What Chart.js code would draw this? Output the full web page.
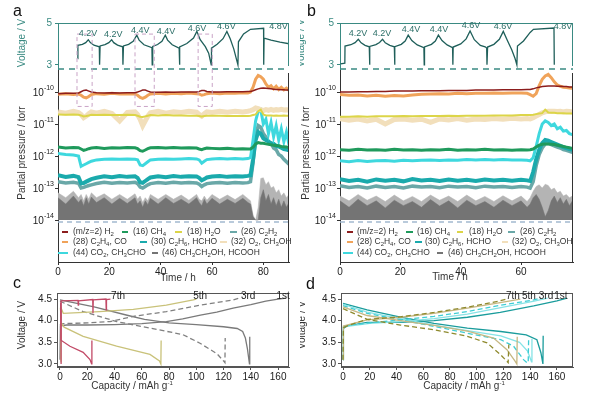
<!DOCTYPE html>
<html>
<head>
<meta charset="utf-8">
<script src="https://cdn.jsdelivr.net/npm/chart.js@4.4.0/dist/chart.umd.min.js"></script>
<style>
  body { margin: 0; background: #fff; }
  #page { position: relative; width: 600px; height: 394px; overflow: hidden; font-family: 'Liberation Sans', Arial, sans-serif; color: #333; }
  canvas { position: absolute; }
  .lbl { position: absolute; white-space: nowrap; font-size: 10px; line-height: 10px; }
  .rot { transform: translate(-50%, -50%) rotate(-90deg); }
  .ctr { transform: translate(-50%, -50%); }
  .panel { position: absolute; font-size: 16px; line-height: 16px; color: #111; }
  .clip { position: absolute; overflow: hidden; }
  sub { font-size: 6px; vertical-align: baseline; position: relative; top: 2px; }
  sup { font-size: 6px; vertical-align: baseline; position: relative; top: -4px; }
  .leg { position: absolute; font-size: 8.5px; line-height: 9px; white-space: nowrap; color: #333; transform: translateY(-50%); }
  .mk { position: absolute; height: 2px; transform: translateY(-50%); }
</style>
</head>
<body>
<div id="page">
  <canvas id="chartA" width="300" height="290" style="left:0;top:0"></canvas>
  <canvas id="chartB" width="300" height="290" style="left:300px;top:0"></canvas>
  <canvas id="chartC" width="300" height="109" style="left:0;top:285px"></canvas>
  <canvas id="chartD" width="300" height="109" style="left:300px;top:285px"></canvas>

  <div class="panel" style="left:13px;top:3px">a</div>
  <div class="panel" style="left:307px;top:3px">b</div>
  <div class="panel" style="left:13px;top:275px">c</div>
  <div class="panel" style="left:306px;top:276px">d</div>

  <div class="lbl rot" style="left:22px;top:43px;color:#3a8a82">Voltage / V</div>
  <div class="lbl rot" style="left:22px;top:153px">Partial pressure / torr</div>
  <div class="lbl ctr" style="left:178px;top:278px">Time / h</div>
  <div class="lbl ctr" style="left:450px;top:277px">Time / h</div>
  <div class="lbl rot" style="left:22px;top:325px">Voltage / V</div>
  <div class="lbl ctr" style="left:132px;top:386px">Capacity / mAh g<sup>-1</sup></div>
  <div class="lbl ctr" style="left:464px;top:386px">Capacity / mAh g<sup>-1</sup></div>
  <div class="clip" style="left:300px;top:0;width:40px;height:394px">
    <div class="lbl rot" style="left:1px;top:43px;color:#3a8a82">Voltage / V</div>
    <div class="lbl rot" style="left:6px;top:153px">Partial pressure / torr</div>
    <div class="lbl rot" style="left:2px;top:325px">Voltage / V</div>
  </div>
  <div id="legends"></div>
</div>

<script>
// time axes (h) for the mass-spec traces
const tA = [0, 3, 6, 8, 9, 10, 11, 12, 13, 15, 18, 21, 24, 27, 30, 31, 32, 33, 34, 35, 36,
  39, 42, 45, 48, 51, 54, 55, 56, 57, 58, 60, 63, 66, 69, 72, 74,
  75, 76, 77, 78, 79, 80, 81, 82, 83, 84, 85, 86, 87, 88, 89, 90];
const tB = [0, 3, 6, 9, 12, 15, 18, 21, 24, 27, 30, 33, 36, 39, 42, 45, 48, 51, 54, 57, 60,
  62, 63, 64, 65, 66, 67, 68, 69, 70, 71, 72, 73, 74, 75, 76, 77];
const timeTicksA = [0, 20, 40, 60, 80];
const timeTicksB = [0, 20, 40, 60];

// partial pressures, stored as log10(torr)
const a_h2 = [-10.05, -10.04, -10.04, -10.03, -9.99, -9.95, -9.94, -9.97, -10.0,
  -10.02, -10.03, -10.02, -10.03, -10.02, -10.02, -10.0, -9.97, -9.94, -9.94, -9.97, -10.0,
  -10.01, -10.0, -10.01, -10.0, -10.0, -10.0, -9.98, -9.95, -9.95, -9.98,
  -10.0, -10.0, -9.99, -9.99, -9.99, -9.98, -9.98, -9.96, -9.93, -9.9, -9.88, -9.87, -9.88, -9.89,
  -9.9, -9.91, -9.92, -9.92, -9.93, -9.93, -9.94, -9.94];
const a_m28 = [-10.07, -10.05, -10.08, -10.06, -10.1, -10.16, -10.18, -10.14, -10.08,
  -10.05, -10.07, -10.04, -10.06, -10.05, -10.06, -10.1, -10.17, -10.2, -10.16, -10.1, -10.06,
  -10.04, -10.06, -10.04, -10.05, -10.03, -10.05, -10.06, -10.1, -10.08, -10.05,
  -10.03, -10.05, -10.03, -10.04, -10.02, -10.03, -10.0, -9.85, -9.6, -9.48, -9.52, -9.6, -9.75, -9.85,
  -9.8, -9.9, -9.82, -9.92, -9.85, -9.93, -9.88, -9.95];
const a_m18 = [-10.7, -10.71, -10.7, -10.71, -10.73, -10.76, -10.75, -10.73, -10.71,
  -10.72, -10.71, -10.72, -10.72, -10.71, -10.72, -10.74, -10.77, -10.78, -10.76, -10.74, -10.72,
  -10.73, -10.72, -10.73, -10.73, -10.74, -10.74, -10.75, -10.76, -10.75, -10.74,
  -10.74, -10.74, -10.75, -10.75, -10.75, -10.75, -10.74, -10.72, -10.7, -10.6, -10.55, -10.7, -10.73, -10.73,
  -10.73, -10.74, -10.73, -10.74, -10.74, -10.73, -10.74, -10.74];
const a_m32 = [-10.62, -10.66, -10.6, -10.64, -10.7, -10.8, -10.75, -10.68, -10.62,
  -10.66, -10.6, -10.67, -10.9, -10.64, -10.62, -10.7, -10.85, -11.05, -10.9, -10.75, -10.65,
  -10.6, -10.66, -10.62, -10.64, -10.6, -10.63, -10.7, -10.75, -10.68, -10.62,
  -10.64, -10.6, -10.63, -10.6, -10.62, -10.6, -10.58, -10.55, -10.5, -10.52, -10.55, -10.58, -10.55, -10.57,
  -10.54, -10.57, -10.55, -10.56, -10.54, -10.56, -10.55, -10.56];
const a_m16 = [-11.72, -11.75, -11.73, -11.74, -11.78, -11.82, -11.8, -11.77, -11.75,
  -11.73, -11.76, -11.74, -11.75, -11.73, -11.74, -11.77, -11.83, -11.85, -11.81, -11.77, -11.74,
  -11.73, -11.75, -11.73, -11.75, -11.74, -11.75, -11.78, -11.8, -11.77, -11.75,
  -11.76, -11.77, -11.76, -11.78, -11.77, -11.78, -11.78, -11.72, -11.62, -11.58, -11.6, -11.6, -11.62, -11.63,
  -11.65, -11.66, -11.67, -11.68, -11.7, -11.71, -11.72, -11.73];
const a_m44 = [-11.92, -11.95, -11.97, -12.0, -12.32, -12.28, -12.24, -12.2, -12.16,
  -12.12, -12.1, -12.09, -12.1, -12.09, -12.1, -12.12, -12.28, -12.3, -12.24, -12.18, -12.12,
  -12.1, -12.09, -12.1, -12.09, -12.08, -12.09, -12.12, -12.22, -12.16, -12.11,
  -12.09, -12.08, -12.09, -12.08, -12.09, -12.08, -12.05, -11.5, -10.9, -10.6, -10.55, -11.0, -10.85, -11.3,
  -10.95, -11.4, -11.05, -11.5, -11.15, -11.55, -11.25, -11.65];
const a_m30 = [-12.6, -12.65, -12.62, -12.66, -12.85, -12.84, -12.8, -12.76, -12.72,
  -12.68, -12.63, -12.66, -12.62, -12.65, -12.63, -12.68, -12.82, -12.84, -12.78, -12.72, -12.67,
  -12.63, -12.66, -12.62, -12.65, -12.63, -12.64, -12.68, -12.76, -12.72, -12.67,
  -12.64, -12.62, -12.65, -12.63, -12.64, -12.62, -12.6, -12.1, -11.5, -11.25, -11.3, -11.45, -11.5, -11.55,
  -11.6, -11.62, -11.68, -11.7, -11.74, -11.78, -11.8, -11.82];
const a_m26 = [-12.8, -12.84, -12.82, -12.85, -13.0, -12.98, -12.95, -12.92, -12.9,
  -12.86, -12.82, -12.85, -12.83, -12.84, -12.82, -12.86, -12.97, -13.0, -12.95, -12.9, -12.86,
  -12.83, -12.85, -12.82, -12.84, -12.83, -12.84, -12.88, -12.95, -12.9, -12.86,
  -12.84, -12.83, -12.85, -12.83, -12.84, -12.83, -12.8, -12.2, -11.4, -11.05, -11.1, -11.3, -11.4, -11.55,
  -11.6, -11.75, -11.8, -11.95, -12.0, -12.1, -12.18, -12.26];
const a_m46 = [-13.3, -13.5, -13.25, -13.45, -13.35, -13.55, -13.3, -13.5, -13.28,
  -13.45, -13.3, -13.5, -13.32, -13.48, -13.3, -13.5, -13.4, -13.6, -13.4, -13.52, -13.32,
  -13.5, -13.3, -13.48, -13.35, -13.5, -13.3, -13.45, -13.55, -13.35, -13.5,
  -13.32, -13.5, -13.35, -13.48, -13.32, -13.45, -13.5, -13.9, -14.0, -14.0, -13.3, -13.05, -13.4, -13.2,
  -13.5, -13.3, -13.55, -13.35, -13.6, -13.4, -13.6, -13.45];
const a_m46b = [-13.15, -13.3, -13.1, -13.3, -13.2, -13.4, -13.2, -13.35, -13.15,
  -13.3, -13.18, -13.35, -13.2, -13.35, -13.18, -13.35, -13.25, -13.45, -13.3, -13.4, -13.2,
  -13.35, -13.2, -13.35, -13.22, -13.38, -13.2, -13.35, -13.4, -13.25, -13.38,
  -13.2, -13.35, -13.22, -13.36, -13.2, -13.33, -13.4, -13.85, -14.0, -13.6, -12.7, -12.68, -12.9, -12.8,
  -13.0, -12.95, -13.15, -13.05, -13.25, -13.15, -13.3, -13.2];

const b_h2 = [-10.0, -10.0, -9.99, -9.99, -9.98, -9.98, -9.97, -9.97, -9.97, -9.96, -9.96,
  -9.96, -9.95, -9.95, -9.95, -9.94, -9.94, -9.94, -9.93, -9.93, -9.93,
  -9.92, -9.92, -9.9, -9.87, -9.85, -9.83, -9.82, -9.81,
  -9.81, -9.81, -9.82, -9.82, -9.83, -9.83, -9.84, -9.84];
const b_m28 = [-10.08, -10.1, -10.09, -10.12, -10.1, -10.13, -10.11, -10.12, -10.09, -10.07, -10.06,
  -10.05, -10.06, -10.04, -10.05, -10.04, -10.04, -10.03, -10.04, -10.03, -10.03,
  -10.04, -10.08, -10.13, -10.05, -9.8, -9.6, -9.5, -9.45,
  -9.55, -9.68, -9.78, -9.82, -9.85, -9.86, -9.87, -9.88];
const b_m18 = [-10.77, -10.77, -10.76, -10.77, -10.76, -10.76, -10.76, -10.75, -10.76, -10.75, -10.75,
  -10.75, -10.74, -10.75, -10.74, -10.74, -10.74, -10.73, -10.73, -10.73, -10.72,
  -10.72, -10.72, -10.71, -10.69, -10.67, -10.66, -10.55, -10.64,
  -10.65, -10.65, -10.66, -10.66, -10.66, -10.67, -10.67, -10.67];
const b_m32 = [-10.83, -10.88, -10.84, -10.9, -10.85, -11.0, -10.86, -10.84, -10.88, -10.85, -10.95,
  -10.84, -10.87, -10.83, -10.88, -10.84, -10.86, -10.83, -10.85, -10.82, -10.84,
  -10.83, -10.84, -10.8, -10.75, -10.7, -10.65, -10.62, -10.6,
  -10.6, -10.6, -10.61, -10.6, -10.62, -10.6, -10.61, -10.62];
const b_m16 = [-11.8, -11.82, -11.79, -11.81, -11.8, -11.82, -11.79, -11.81, -11.8, -11.82, -11.8,
  -11.81, -11.79, -11.82, -11.8, -11.81, -11.79, -11.81, -11.8, -11.82, -11.8,
  -11.81, -11.8, -11.78, -11.72, -11.66, -11.63, -11.62, -11.62,
  -11.63, -11.64, -11.66, -11.68, -11.7, -11.72, -11.74, -11.76];
const b_m44 = [-12.15, -12.18, -12.14, -12.17, -12.15, -12.14, -12.16, -12.13, -12.15, -12.13, -12.12,
  -12.14, -12.12, -12.13, -12.11, -12.12, -12.11, -12.12, -12.11, -12.12, -12.12,
  -12.13, -12.15, -12.05, -11.7, -11.3, -11.0, -10.9, -10.95,
  -11.05, -11.0, -11.15, -11.1, -11.22, -11.2, -11.3, -11.33];
const b_m30 = [-12.72, -12.78, -12.74, -12.8, -12.73, -12.77, -12.74, -12.79, -12.72, -12.76, -12.74,
  -12.78, -12.73, -12.77, -12.74, -12.78, -12.73, -12.76, -12.74, -12.77, -12.74,
  -12.76, -12.78, -12.5, -12.1, -11.8, -11.6, -11.5, -11.52,
  -11.56, -11.6, -11.64, -11.68, -11.72, -11.75, -11.78, -11.8];
const b_m26 = [-12.93, -12.98, -12.95, -13.0, -12.94, -12.98, -12.95, -13.0, -12.94, -12.97, -12.95,
  -12.99, -12.94, -12.97, -12.95, -12.99, -12.94, -12.97, -12.95, -12.98, -12.95,
  -12.97, -13.0, -12.8, -12.3, -11.95, -11.75, -11.62, -11.6,
  -11.64, -11.68, -11.72, -11.75, -11.8, -11.82, -11.85, -11.88];
const b_m46 = [-13.4, -13.6, -13.35, -13.55, -13.4, -13.62, -13.38, -13.55, -13.42, -13.6, -13.36,
  -13.56, -13.4, -13.62, -13.38, -13.55, -13.42, -13.6, -13.38, -13.55, -13.4,
  -13.6, -13.5, -13.3, -13.2, -13.35, -13.6, -13.9, -13.7,
  -13.4, -13.25, -13.45, -13.3, -13.5, -13.35, -13.55, -13.4];
const b_m46b = [-13.25, -13.4, -13.2, -13.38, -13.25, -13.42, -13.22, -13.4, -13.26, -13.42, -13.22,
  -13.38, -13.25, -13.42, -13.22, -13.4, -13.26, -13.42, -13.24, -13.4, -13.25,
  -13.42, -13.3, -13.1, -12.95, -12.9, -13.0, -12.88, -12.92,
  -13.05, -13.0, -13.15, -13.1, -13.25, -13.2, -13.3, -13.25];

// cell voltage vs time, [h, V]
const voltA = [[7.7, 3.3], [7.75, 3.93], [9.5, 3.98], [10.8, 4.06], [11.8, 4.2], [12.6, 4.06], [14, 3.94], [16.1, 3.86], [16.2, 3.0], [16.4, 3.9],
  [18.3, 3.97], [19.8, 4.06], [20.9, 4.2], [21.7, 4.06], [23.2, 3.94], [25.2, 3.86], [25.3, 3.0], [25.5, 3.9],
  [27.5, 3.98], [29.3, 4.12], [30.7, 4.42], [31.6, 4.18], [33.5, 3.96], [36.6, 3.82], [36.7, 3.0], [36.9, 3.88],
  [38.8, 3.97], [40.5, 4.12], [41.8, 4.42], [42.7, 4.18], [44.5, 3.96], [47.2, 3.8], [47.3, 3.0], [47.5, 3.86],
  [50.2, 4.02], [52.8, 4.28], [54.1, 4.6], [55.4, 4.2], [57.4, 3.87], [58.7, 3.56], [59.7, 3.0],
  [59.8, 3.8], [62, 3.98], [64.3, 4.25], [65.8, 4.6], [67.1, 4.25], [68.5, 3.75], [70.1, 3.0],
  [70.3, 4.1], [72.3, 4.48], [75, 4.7], [80.1, 4.75], [80.15, 3.0], [80.3, 4.28], [83, 4.18], [86.5, 4.08], [90.3, 4.0]];
const voltB = [[0.2, 3.05], [1.6, 3.08], [1.66, 3.9], [3.6, 3.96], [5, 4.06], [6.07, 4.22], [7, 4.05], [8.3, 3.93], [9.7, 3.86], [9.8, 3.0], [9.9, 3.88],
  [11.9, 3.97], [13.1, 4.07], [14.1, 4.22], [15, 4.05], [16.5, 3.93], [18, 3.86], [18.1, 3.0], [18.2, 3.87],
  [20.3, 3.98], [21.6, 4.14], [22.6, 4.42], [23.8, 4.16], [25.6, 3.95], [27.8, 3.82], [27.9, 3.0], [28, 3.86],
  [30.3, 3.98], [31.6, 4.14], [32.6, 4.42], [33.8, 4.16], [35.5, 3.95], [37.3, 3.82], [37.4, 3.0], [37.5, 3.85],
  [40, 4.0], [41.8, 4.24], [43.1, 4.62], [44.5, 4.2], [46.5, 3.93], [48.1, 3.86], [48.6, 3.8], [48.7, 3.0], [48.9, 3.85],
  [51, 3.98], [52.8, 4.22], [54.1, 4.6], [55.5, 4.15], [56.9, 3.72], [58, 3.3], [58.6, 3.0], [58.8, 3.9],
  [60.8, 4.14], [63, 4.55], [64.1, 4.7], [70.9, 4.76], [71.0, 3.0]];
const voltTicks = [3, 4, 5];
const pTickExp = [-14, -13, -12, -11, -10];

// cut-off voltage notes on the top strip
const noteText = ['4.2V', '4.2V', '4.4V', '4.4V', '4.6V', '4.6V', '4.8V'];
const noteTA = [11.7, 21.5, 32, 42.1, 54.2, 65.6, 85.9];
const noteVA = [4.52, 4.47, 4.62, 4.57, 4.76, 4.81, 4.81];
const noteTB = [6.0, 13.9, 23.5, 32.8, 43.4, 54.0, 73.9];
const noteVB = [4.52, 4.52, 4.71, 4.71, 4.86, 4.81, 4.81];
// highlighted first cycles in panel a, [start h, end h]
const boxSpans = [[7.4, 13.3], [30, 37.5], [54.6, 60.1]];

// galvanostatic curves, [mAh/g, V]
const c1Ch = [[0, 3.1], [0.3, 3.88], [5, 3.9], [20, 3.9], [40, 3.91], [60, 3.93], [78, 3.98], [90, 4.04], [103, 4.13], [115, 4.2], [127, 4.29], [140, 4.37], [151, 4.45], [160, 4.5], [166, 4.52]];
const c1Dis = [[0, 4.48], [25, 4.32], [50, 4.12], [62, 4.03], [80, 3.95], [100, 3.91], [120, 3.86], [130, 3.82], [134, 3.75], [136, 3.6], [137.5, 3.35], [139, 3.0], [139.2, 3.63]];
const c3Ch = [[0, 3.9], [1, 3.93], [20, 3.95], [36.7, 3.98], [53.8, 4.1], [78, 4.21], [102.7, 4.36], [127, 4.48], [131, 4.52]];
const c3Dis = [[0, 4.45], [17, 4.21], [41.5, 3.98], [66, 3.83], [90, 3.68], [102.7, 3.48], [115, 3.24], [120, 3.07], [121, 3.03], [121.2, 3.6]];
const c5Ch = [[0.5, 3.05], [0.7, 4.3], [2.4, 4.17], [29, 4.21], [53.8, 4.26], [78, 4.36], [97.8, 4.48], [100, 4.5]];
const c5Dis = [[0.3, 4.3], [1, 3.95], [3, 3.85], [17, 3.64], [41.5, 3.41], [66, 3.22], [73, 3.07], [74, 3.0], [74.2, 3.54]];
const c7Ch = [[0.8, 3.0], [0.8, 4.46], [13.2, 4.47], [13.4, 4.36], [13.6, 4.46], [24, 4.49], [24.2, 4.17], [24.4, 4.48], [33.7, 4.5], [33.9, 4.25], [34.1, 4.49], [37, 4.5]];
const c7Dis = [[0.5, 4.42], [0.7, 3.55], [7.3, 3.41], [17, 3.27], [22, 3.1], [23.2, 3.0], [23.4, 3.54]];

const d1Ch = [[0, 3.1], [0.3, 3.82], [3, 3.88], [18, 3.96], [43, 3.96], [68, 4.0], [93, 4.08], [117.6, 4.19], [142.6, 4.34], [160, 4.46], [167.5, 4.52]];
const d1Dis = [[0, 4.4], [18, 4.25], [43, 4.08], [68, 3.94], [93, 3.83], [118, 3.75], [137, 3.67], [145, 3.56], [148, 3.26], [149.5, 3.0], [149.7, 3.65]];
const d2Ch = [[0, 3.1], [0.3, 3.86], [20, 3.94], [43, 3.98], [68, 4.05], [93, 4.15], [118, 4.3], [143, 4.45], [153, 4.52]];
const d2Dis = [[0, 4.38], [18, 4.2], [43, 4.05], [68, 3.9], [93, 3.77], [118, 3.65], [132, 3.5], [138, 3.3], [141, 3.05], [141.3, 3.58]];
const d3Ch = [[0, 3.1], [0.3, 3.85], [5, 3.9], [20, 3.95], [43, 4.02], [68, 4.1], [93, 4.21], [118, 4.36], [142.6, 4.48], [147, 4.52]];
const d3Dis = [[0, 4.35], [18, 4.17], [43, 4.02], [68, 3.87], [93, 3.71], [118, 3.56], [127.6, 3.41], [135, 3.1], [137.5, 3.03], [138.5, 3.03], [138.8, 3.55]];
const d5Ch = [[0, 3.1], [0.3, 3.88], [18, 4.02], [43, 4.08], [68, 4.17], [93, 4.29], [117.6, 4.42], [132.6, 4.5]];
const d5Dis = [[0, 4.32], [18, 4.12], [43, 4.0], [68, 3.89], [93, 3.76], [112.6, 3.6], [122.6, 3.33], [128.8, 3.06], [130, 3.0], [130.3, 3.63]];
const d7Ch = [[0, 3.1], [0.3, 3.84], [5, 3.9], [18, 4.03], [43, 4.09], [68, 4.19], [93, 4.31], [117.6, 4.46], [122.6, 4.5]];
const d7Dis = [[0, 4.28], [18, 4.03], [43, 3.9], [68, 3.79], [93, 3.64], [107.7, 3.49], [117.6, 3.22], [122.6, 3.06], [123.5, 3.03], [124, 3.45]];

const capTicks = [0, 20, 40, 60, 80, 100, 120, 140, 160];
const capVTicks = [3.0, 3.5, 4.0, 4.5];
const cycleText = ['7th', '5th', '3rd', '1st'];
const cycleCapC = [42.6, 102.8, 138, 163.7];
const cycleCapD = [127, 139, 151.8, 163];

// series order: H2, 28, 18, 32, 16, 44, 30, 26, 46, 46 (light)
const gasNames = ['(m/z=2) H<sub>2</sub>', '(28) C<sub>2</sub>H<sub>4</sub>, CO', '(18) H<sub>2</sub>O',
  '(32) O<sub>2</sub>, CH<sub>3</sub>OH', '(16) CH<sub>4</sub>', '(44) CO<sub>2</sub>, CH<sub>3</sub>CHO',
  '(30) C<sub>2</sub>H<sub>6</sub>, HCHO', '(26) C<sub>2</sub>H<sub>2</sub>', '(46) CH<sub>3</sub>CH<sub>2</sub>OH, HCOOH'];
const gasColors = ['#8c1d1d', '#f0a35a', '#dcd548', '#f2dfbb', '#1f9a5c', '#3ed8de', '#1aaaac', '#6aa8a8', '#747474', '#b4b4b4'];
const gasWidths = [1.5, 3, 2, 5, 3, 3, 4, 3.5, 0.5, 0.5];
const legOrder = [0, 4, 2, 7, 1, 6, 3, 5, 8];
// legend layout: [marker start, marker end, text x, row y]
const legPosA = [[62, 68, 73, 232], [122, 128, 133, 232], [175, 182, 187, 232], [230, 237, 241, 232],
  [62, 68, 73, 242], [140, 147, 151, 242], [220, 227, 231, 242], [58, 68, 73, 253], [152, 158, 162, 253]];
const legPosB = [[347, 353, 357, 232], [406, 413, 417, 232], [457, 463, 469, 232], [508, 515, 520, 232],
  [347, 353, 357, 242], [415, 422, 425, 242], [502, 508, 512, 242], [343, 353, 357, 253], [437, 443, 448, 253]];

const teal = '#3a8a82';
const font = "'Liberation Sans', Arial, sans-serif";

Chart.defaults.font.family = font;
Chart.defaults.font.size = 10;
Chart.defaults.color = '#222';
Chart.defaults.animation = false;
Chart.defaults.events = [];
Chart.defaults.plugins.legend.display = false;
Chart.defaults.plugins.tooltip.enabled = false;
Chart.defaults.elements.point.radius = 0;
Chart.defaults.elements.line.tension = 0;

const toXY = (pairs) => pairs.map((p) => ({ x: p[0], y: p[1] }));
const line = (ctx, x0, y0, x1, y1) => {
  ctx.beginPath();
  ctx.moveTo(x0, y0);
  ctx.lineTo(x1, y1);
  ctx.stroke();
};

// frame, separators, boxes and superscript tick labels for the gas panels
const gasFrame = (noteT, noteV, boxes) => ({
  id: 'gasFrame',
  afterDraw(chart) {
    const { ctx, chartArea: ca, scales } = chart;
    const { x, yV, yP } = scales;
    ctx.save();
    ctx.lineWidth = 1;
    ctx.strokeStyle = teal;
    line(ctx, ca.left, yV.top + 0.5, ca.right, yV.top + 0.5);
    line(ctx, ca.right - 0.5, yV.top, ca.right - 0.5, yV.bottom - 3);
    ctx.strokeStyle = '#333';
    line(ctx, ca.right - 0.5, yP.top + 4, ca.right - 0.5, ca.bottom);

    ctx.lineWidth = 1.5;
    ctx.setLineDash([6, 5]);
    ctx.strokeStyle = teal;
    line(ctx, ca.left, yV.bottom, ca.right, yV.bottom);
    ctx.setLineDash([5, 4]);
    ctx.strokeStyle = '#a3b9cf';
    const y14 = yP.getPixelForValue(1e-14) + 2;
    line(ctx, ca.left, y14, ca.right, y14);

    ctx.lineWidth = 1;
    ctx.setLineDash([4, 3]);
    ctx.strokeStyle = '#c9a3c6';
    boxes.forEach((b) => {
      const x0 = x.getPixelForValue(b[0]);
      const x1 = x.getPixelForValue(b[1]);
      const y0 = yV.getPixelForValue(4.47);
      const y1 = yP.getPixelForValue(Math.pow(10, -10.45));
      ctx.strokeRect(x0, y0, x1 - x0, y1 - y0);
    });
    ctx.setLineDash([]);

    ctx.fillStyle = '#222';
    ctx.textAlign = 'right';
    ctx.textBaseline = 'middle';
    yP.ticks.forEach((tk) => {
      const y = yP.getPixelForValue(tk.value);
      const e = String(Math.round(Math.log10(tk.value)));
      const xr = yP.right - 4;
      ctx.font = '7px ' + font;
      const ew = ctx.measureText(e).width;
      ctx.fillText(e, xr, y - 4);
      ctx.font = '10px ' + font;
      ctx.fillText('10', xr - ew, y + 1);
    });

    ctx.fillStyle = '#2c6f68';
    ctx.font = '9px ' + font;
    ctx.textAlign = 'center';
    noteText.forEach((s, i) => {
      ctx.fillText(s, x.getPixelForValue(noteT[i]), yV.getPixelForValue(noteV[i]));
    });
    ctx.restore();
  },
});

const makeGas = (id, times, series, volt, xMax, xTicks, yWidth, padRight, noteT, noteV, boxes) => {
  const sets = series.map((s, i) => ({
    data: times.map((t, j) => ({ x: t, y: Math.pow(10, s[j]) })),
    yAxisID: 'yP',
    borderColor: gasColors[i],
    backgroundColor: gasColors[i],
    borderWidth: gasWidths[i],
    fill: i >= 8 ? { value: 1e-14 } : false,
  }));
  sets.unshift({
    data: toXY(volt),
    yAxisID: 'yV',
    borderColor: '#1f5f5a',
    borderWidth: 1.3,
  });
  return new Chart(document.getElementById(id), {
    type: 'line',
    data: { datasets: sets },
    options: {
      responsive: false,
      devicePixelRatio: 1,
      layout: { padding: { top: 23, right: padRight, left: 0, bottom: 0 } },
      scales: {
        x: {
          type: 'linear',
          min: 0,
          max: xMax,
          afterBuildTicks: (s) => { s.ticks = xTicks.map((v) => ({ value: v })); },
          afterFit: (s) => { s.height = 28; },
          grid: { drawOnChartArea: false, tickLength: 3, color: '#333' },
          border: { color: '#333' },
          ticks: { padding: 1, maxRotation: 0 },
        },
        yP: {
          type: 'logarithmic',
          position: 'left',
          stack: 'gas',
          stackWeight: 193,
          min: Math.pow(10, -15.31),
          max: Math.pow(10, -9.28),
          afterBuildTicks: (s) => { s.ticks = pTickExp.map((e) => ({ value: Math.pow(10, e) })); },
          afterFit: (s) => { s.width = yWidth; },
          ticks: { display: false },
          grid: { drawOnChartArea: false, tickLength: 3, color: '#333' },
          border: { color: '#333' },
        },
        yV: {
          type: 'linear',
          position: 'left',
          stack: 'gas',
          stackWeight: 46,
          min: 2.8,
          max: 5,
          afterBuildTicks: (s) => { s.ticks = voltTicks.map((v) => ({ value: v })); },
          afterFit: (s) => { s.width = yWidth; },
          ticks: { color: teal, padding: 3 },
          grid: { drawOnChartArea: false, tickLength: 3, color: teal },
          border: { color: teal },
        },
      },
    },
    plugins: [gasFrame(noteT, noteV, boxes)],
  });
};

// box and cycle labels for the capacity panels
const capFrame = (caps) => ({
  id: 'capFrame',
  afterDraw(chart) {
    const { ctx, chartArea: ca, scales } = chart;
    ctx.save();
    ctx.strokeStyle = '#555';
    ctx.lineWidth = 1;
    ctx.strokeRect(ca.left + 0.5, ca.top + 0.5, ca.right - ca.left - 1, ca.bottom - ca.top - 1);
    ctx.fillStyle = '#222';
    ctx.font = '10px ' + font;
    ctx.textAlign = 'center';
    ctx.textBaseline = 'middle';
    cycleText.forEach((s, i) => {
      ctx.fillText(s, scales.x.getPixelForValue(caps[i]), scales.y.getPixelForValue(4.56));
    });
    ctx.restore();
  },
});

const makeCap = (id, curves, xMin, xMax, yWidth, padRight, caps) => new Chart(document.getElementById(id), {
  type: 'line',
  data: {
    datasets: curves.map((c) => ({
      data: toXY(c.pts),
      borderColor: c.color,
      borderWidth: 1.3,
      borderDash: c.dash ? [5, 3] : [],
    })),
  },
  options: {
    responsive: false,
    devicePixelRatio: 1,
    layout: { padding: { top: 8, right: padRight, left: 0, bottom: 0 } },
    scales: {
      x: {
        type: 'linear',
        min: xMin,
        max: xMax,
        afterBuildTicks: (s) => { s.ticks = capTicks.map((v) => ({ value: v })); },
        afterFit: (s) => { s.height = 27; },
        grid: { drawOnChartArea: false, tickLength: 3, color: '#555' },
        border: { color: '#555' },
        ticks: { padding: 1, maxRotation: 0 },
      },
      y: {
        type: 'linear',
        min: 2.93,
        max: 4.64,
        afterBuildTicks: (s) => { s.ticks = capVTicks.map((v) => ({ value: v })); },
        afterFit: (s) => { s.width = yWidth; },
        grid: { drawOnChartArea: false, tickLength: 3, color: '#555' },
        border: { color: '#555' },
        ticks: { padding: 2, callback: (v) => v.toFixed(1) },
      },
    },
  },
  plugins: [capFrame(caps)],
});

makeGas('chartA', tA, [a_h2, a_m28, a_m18, a_m32, a_m16, a_m44, a_m30, a_m26, a_m46, a_m46b],
  voltA, 90, timeTicksA, 58, 11, noteTA, noteVA, boxSpans);
makeGas('chartB', tB, [b_h2, b_m28, b_m18, b_m32, b_m16, b_m44, b_m30, b_m26, b_m46, b_m46b],
  voltB, 77.2, timeTicksB, 40, 27, noteTB, noteVB, []);

makeCap('chartC', [
  { pts: c7Ch, color: '#c24a67' }, { pts: c7Dis, color: '#c24a67' },
  { pts: c5Ch, color: '#c9c27a' }, { pts: c5Dis, color: '#c9c27a' },
  { pts: c3Ch, color: '#808080', dash: true }, { pts: c3Dis, color: '#808080', dash: true },
  { pts: c1Ch, color: '#7a7a7a' }, { pts: c1Dis, color: '#7a7a7a' },
], -2.2, 168, 57, 11, cycleCapC);
makeCap('chartD', [
  { pts: d7Ch, color: '#8f8a2e', dash: true }, { pts: d7Dis, color: '#8f8a2e', dash: true },
  { pts: d5Ch, color: '#c6b783' }, { pts: d5Dis, color: '#c6b783' },
  { pts: d3Ch, color: '#3fcdd4', dash: true }, { pts: d3Dis, color: '#3fcdd4', dash: true },
  { pts: d2Ch, color: '#86e3e6' }, { pts: d2Dis, color: '#86e3e6' },
  { pts: d1Ch, color: '#1a9c9c' }, { pts: d1Dis, color: '#1a9c9c' },
], -1.5, 172, 41, 27, cycleCapD);

// html legends inside the bottom of the pressure axes
const legends = document.getElementById('legends');
[legPosA, legPosB].forEach((pos) => {
  legOrder.forEach((k, i) => {
    const p = pos[i];
    const mk = document.createElement('div');
    mk.className = 'mk';
    mk.style.left = p[0] + 'px';
    mk.style.width = (p[1] - p[0]) + 'px';
    mk.style.top = p[3] + 'px';
    mk.style.background = gasColors[k];
    legends.appendChild(mk);
    const tx = document.createElement('div');
    tx.className = 'leg';
    tx.style.left = p[2] + 'px';
    tx.style.top = p[3] + 'px';
    tx.innerHTML = gasNames[k];
    legends.appendChild(tx);
  });
});
</script>
</body>
</html>
